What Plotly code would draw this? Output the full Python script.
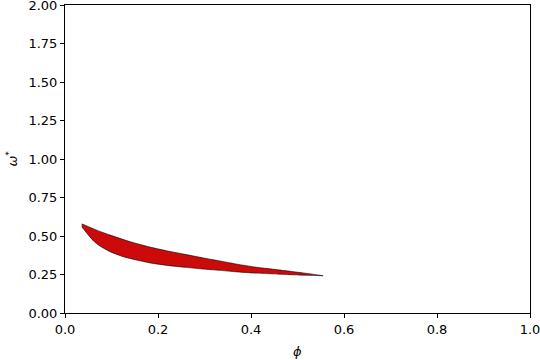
import plotly.graph_objects as go

# Upper boundary of the region (left to right)
phi_upper = [0.036, 0.042, 0.054, 0.075, 0.097, 0.140, 0.183, 0.220, 0.258, 0.295, 0.333, 0.370, 0.409, 0.440, 0.462, 0.484, 0.520, 0.555]
omega_upper = [0.578, 0.572, 0.556, 0.530, 0.506, 0.463, 0.428, 0.403, 0.381, 0.359, 0.338, 0.317, 0.298, 0.287, 0.279, 0.271, 0.257, 0.242]

# Lower boundary of the region (left to right)
phi_lower = [0.036, 0.040, 0.047, 0.061, 0.075, 0.097, 0.125, 0.154, 0.183, 0.220, 0.258, 0.295, 0.333, 0.370, 0.409, 0.440, 0.462, 0.484, 0.520, 0.555]
omega_lower = [0.562, 0.545, 0.518, 0.469, 0.435, 0.398, 0.366, 0.344, 0.325, 0.309, 0.297, 0.286, 0.277, 0.267, 0.259, 0.255, 0.252, 0.249, 0.245, 0.242]

x_ticks = [0, 0.2, 0.4, 0.6, 0.8, 1.0]
x_ticktext = ["0.0", "0.2", "0.4", "0.6", "0.8", "1.0"]
y_ticks = [0, 0.25, 0.5, 0.75, 1.0, 1.25, 1.5, 1.75, 2.0]
y_ticktext = ["0.00", "0.25", "0.50", "0.75", "1.00", "1.25", "1.50", "1.75", "2.00"]

xs = phi_upper + phi_lower[::-1]
ys = omega_upper + omega_lower[::-1]

fig = go.Figure()
fig.add_trace(go.Scatter(
    x=xs, y=ys, mode="lines", fill="toself",
    fillcolor="rgb(204,10,10)",
    line=dict(color="black", width=0.6, shape="spline", smoothing=0.6),
    showlegend=False, hoverinfo="skip",
))

font = dict(family="DejaVu Sans", size=13, color="black")
axis_common = dict(
    showgrid=False, zeroline=False, showline=True, linecolor="black", linewidth=1,
    mirror=True, ticks="outside", ticklen=4, tickcolor="black", tickwidth=1,
    automargin=False, ticklabeloverflow="allow", tickfont=font,
)
fig.update_layout(
    width=540, height=360,
    margin=dict(l=65, r=10, t=5, b=47),
    paper_bgcolor="white", plot_bgcolor="white",
    font=font,
    xaxis=dict(range=[0, 1], tickvals=x_ticks, ticktext=x_ticktext, **axis_common),
    yaxis=dict(range=[0, 2], tickvals=y_ticks, ticktext=y_ticktext, **axis_common),
    annotations=[
        dict(text="<i>ϕ</i>", xref="paper", yref="paper", x=0.5, y=-0.125,
             xanchor="center", yanchor="middle", showarrow=False, font=font),
        dict(text="<i>ω</i><sup>*</sup>", xref="paper", yref="paper", x=-0.115, y=0.5,
             xanchor="center", yanchor="middle", showarrow=False, font=font,
             textangle=-90),
    ],
)

fig.write_html(
    "out.html",
    config={"displayModeBar": False},
    post_script="document.body.style.margin='0';document.body.style.padding='0';",
)
